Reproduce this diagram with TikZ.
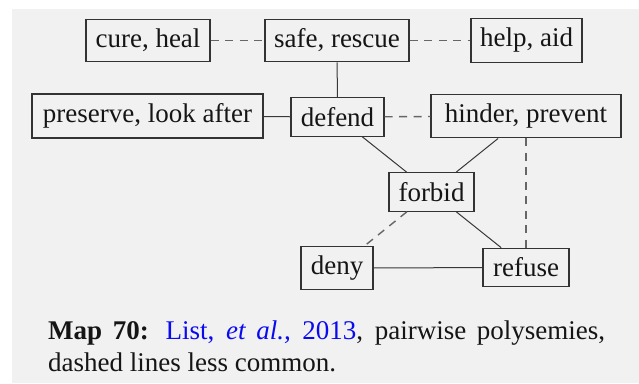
\documentclass[tikz,border=0pt]{standalone}
\usepackage{fontspec}
\setmainfont{Liberation Serif}
\definecolor{bgpanel}{HTML}{F1F1F1}
\definecolor{boxline}{HTML}{333333}
\definecolor{solidline}{HTML}{383838}
\definecolor{dashline}{HTML}{666666}
\definecolor{inktext}{HTML}{151515}
\definecolor{linkblue}{HTML}{0A0AF0}
\begin{document}
\begin{tikzpicture}[x=1pt,y=-1pt,
  wordbox/.style={draw=boxline, line width=1.2pt, inner xsep=5pt, inner ysep=9.6pt,
    text=inktext, font=\fontsize{27}{32}\selectfont},
  solidlink/.style={draw=solidline, line width=1pt},
  dashlink/.style={draw=dashline, line width=1.4pt, dash pattern=on 8pt off 6.5pt}]
\useasboundingbox (0,0) rectangle (639,383);
\fill[white] (0,0) rectangle (639,383);
\fill[bgpanel] (12,9) rectangle (639,383);
\node[wordbox, minimum width=124pt] (cure) at (148,40.5) {cure, heal};
\node[wordbox, minimum width=144pt] (safe) at (337,40.5) {safe, rescue};
\node[wordbox, minimum width=111pt] (help) at (526.5,40.5) {help, aid};
\node[wordbox, minimum width=231pt] (pres) at (147.5,116) {preserve, look after};
\node[wordbox, minimum width=93pt] (defend) at (337.5,117) {defend};
\node[wordbox, minimum width=190pt] (hinder) at (526,116) {hinder, prevent};
\node[wordbox, minimum width=85pt] (forbid) at (431.5,192) {forbid};
\node[wordbox, minimum width=72pt] (deny) at (337,268) {deny};
\node[wordbox, minimum width=86pt] (refuse) at (526,267.5) {refuse};
\draw[dashlink] (cure) -- (safe);
\draw[dashlink] (safe) -- (help);
\draw[solidlink] (safe) -- (defend);
\draw[solidlink] (pres) -- (defend);
\draw[dashlink] (defend) -- (hinder);
\draw[solidlink] (defend) -- (forbid);
\draw[solidlink] (hinder) -- (forbid);
\draw[dashlink] (hinder) -- (refuse);
\draw[dashlink] (forbid) -- (deny);
\draw[solidlink] (forbid) -- (refuse);
\draw[solidlink] (deny) -- (refuse);
\node[anchor=base west, text width=557pt, align=justify, inner sep=0pt, text=inktext,
  font=\fontsize{27}{32.5}\selectfont] (caption) at (48,339)
  {\textbf{Map 70:} \textcolor{linkblue}{List, \textit{et al.,} 2013}, pairwise polysemies, dashed lines less common.};
\end{tikzpicture}
\end{document}
